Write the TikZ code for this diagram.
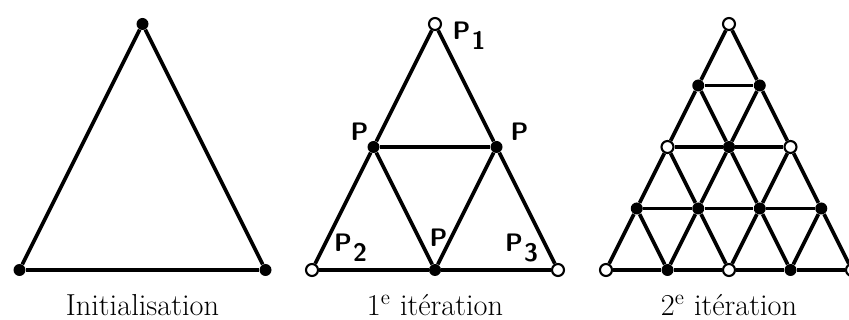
\documentclass[tikz,border=0pt]{standalone}
\newcommand\Pidx[1]{P\kern.05em\raisebox{-.4em}{#1}}
\begin{document}
\begin{tikzpicture}[x=0.02cm,y=-0.02cm,line join=round,
	edge/.style={line width=2.1pt},
	fulldot/.style={circle,fill=black,inner sep=0pt,minimum size=0.24cm},
	opendot/.style={circle,draw=black,fill=white,line width=1.2pt,inner sep=0pt,minimum size=0.24cm},
	lbl/.style={font=\Large\sffamily\bfseries,inner sep=0pt},
	caption/.style={font=\LARGE,inner sep=0pt,anchor=base}]
	\useasboundingbox (0,0) rectangle (849,320);
	\def\h{123}
	% Initialisation
	\node[fulldot] (a1) at (142.5,24) {};
	\node[fulldot] (a2) at (142.5-\h,270) {};
	\node[fulldot] (a3) at (142.5+\h,270) {};
	\draw[edge] (a1) -- (a2);
	\draw[edge] (a2) -- (a3);
	\draw[edge] (a3) -- (a1);
	\node[caption] (capa) at (142.5,316) {Initialisation};
	% 1e iteration
	\node[opendot] (p1) at (435,24) {};
	\node[opendot] (p2) at (435-\h,270) {};
	\node[opendot] (p3) at (435+\h,270) {};
	\node[fulldot] (p12) at (435-\h/2,147) {};
	\node[fulldot] (p13) at (435+\h/2,147) {};
	\node[fulldot] (p23) at (435,270) {};
	\draw[edge] (p1) -- (p12);
	\draw[edge] (p12) -- (p2);
	\draw[edge] (p1) -- (p13);
	\draw[edge] (p13) -- (p3);
	\draw[edge] (p2) -- (p23);
	\draw[edge] (p23) -- (p3);
	\draw[edge] (p12) -- (p13);
	\draw[edge] (p12) -- (p23);
	\draw[edge] (p13) -- (p23);
	\node[lbl] (lp1) at (469,35.5) {\Pidx{1}};
	\node[lbl] (lp2) at (350.5,248) {\Pidx{2}};
	\node[lbl] (lp3) at (521.5,248) {\Pidx{3}};
	\node[lbl] (lp12) at (359.5,132) {P};
	\node[lbl] (lp13) at (519.5,132) {P};
	\node[lbl] (lp23) at (438.5,237.5) {P};
	\node[caption] (capb) at (435,316) {1\textsuperscript{e} itération};
	% 2e iteration
	\foreach \i in {0,...,4}
		\foreach \j in {0,...,\i} {
			\pgfmathsetmacro\xx{729+(2*\j-\i)*\h/4}
			\pgfmathsetmacro\yy{24+\i*61.5}
			\pgfmathtruncatemacro\odd{mod(\i,2)+mod(\j,2)}
			\ifnum\odd=0
				\node[opendot] (t\i\j) at (\xx,\yy) {};
			\else
				\node[fulldot] (t\i\j) at (\xx,\yy) {};
			\fi
		}
	\foreach \i in {0,...,3}
		\foreach \j in {0,...,\i} {
			\pgfmathtruncatemacro\k{\i+1}
			\pgfmathtruncatemacro\l{\j+1}
			\draw[edge] (t\i\j) -- (t\k\j);
			\draw[edge] (t\i\j) -- (t\k\l);
			\draw[edge] (t\k\j) -- (t\k\l);
		}
	\node[caption] (capc) at (729,316) {2\textsuperscript{e} itération};
\end{tikzpicture}
\end{document}
